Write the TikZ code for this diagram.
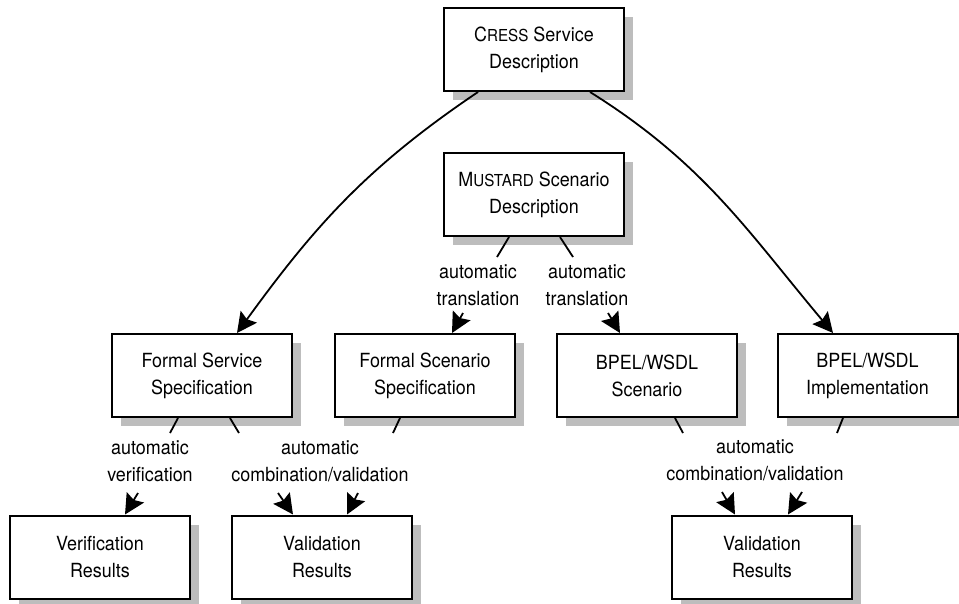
\documentclass[tikz,border=0pt]{standalone}
\usepackage{fontspec}
\setmainfont{TeX Gyre Heros}[FakeStretch=0.92]
\usepackage{tikz}
\usetikzlibrary{arrows.meta,shadows}
\definecolor{border}{HTML}{000000}
\definecolor{shade}{HTML}{BDBDBD}
\newcommand{\boxfont}{\fontsize{19.5}{27}\selectfont}
\newcommand{\smc}[1]{{\fontsize{16.5}{27}\selectfont #1}}
\tikzset{
  box/.style={draw=border, line width=2pt, fill=white, minimum width=180pt,
    minimum height=83pt, align=center, inner sep=0pt, font=\boxfont,
    drop shadow={shadow xshift=9pt, shadow yshift=-9pt, fill=shade, opacity=1}},
  lbl/.style={align=center, inner sep=0pt, font=\boxfont},
  conn/.style={line width=1.8pt, draw=border},
  arr/.style={conn, -{Stealth[length=20pt,width=20pt,inset=3pt]}}
}

\begin{document}
\begin{tikzpicture}[x=1pt,y=1pt]
  \useasboundingbox (0,0) rectangle (959,-603);
  % boxes
  \node[box] (cress)   at (534,-49.5)   {C\smc{RESS} Service\\Description};
  \node[box] (mustard) at (534,-194.5)  {M\smc{USTARD} Scenario\\Description};
  \node[box] (fss)     at (202,-375.5)  {Formal Service\\Specification};
  \node[box] (fscs)    at (425,-375.5)  {Formal Scenario\\Specification};
  \node[box] (bs)      at (647,-375.5)  {BPEL/WSDL\\Scenario};
  \node[box] (impl)    at (867.5,-375.5) {BPEL/WSDL\\Implementation};
  \node[box] (verr)    at (100,-557)    {Verification\\Results};
  \node[box] (valA)    at (322,-557)    {Validation\\Results};
  \node[box] (valB)    at (762,-557)    {Validation\\Results};
  % labels
  \node[lbl] (trA)   at (478,-285) {automatic\\translation};
  \node[lbl] (trB)   at (587,-285) {automatic\\translation};
  \node[lbl] (ver)   at (150,-461) {automatic\\verification};
  \node[lbl] (combA) at (320,-461) {automatic\\combination/validation};
  \node[lbl] (combB) at (755,-460) {automatic\\combination/validation};
  % free ends next to the labels
  \coordinate (mA) at (497,-257);
  \coordinate (mB) at (573,-257);
  \coordinate (tA) at (463,-313);
  \coordinate (tB) at (608,-313);
  \coordinate (sA) at (170,-433);
  \coordinate (sB) at (239,-433);
  \coordinate (sC) at (393,-433);
  \coordinate (vA) at (138,-493);
  \coordinate (cA) at (278,-493);
  \coordinate (cB) at (358,-493);
  \coordinate (bA) at (683,-433);
  \coordinate (bB) at (837,-433);
  \coordinate (cC) at (722,-492);
  \coordinate (cD) at (802,-492);
  % top level
  \draw[arr] ([xshift=-56pt]cress.south) to[out=214,in=54] ([xshift=35pt]fss.north);
  \draw[arr] ([xshift=56pt]cress.south) to[out=-32,in=130] ([xshift=-34.5pt]impl.north);
  % translation
  \draw[conn] ([xshift=-25pt]mustard.south) -- (mA);
  \draw[conn] ([xshift=26pt]mustard.south) -- (mB);
  \draw[arr] (tA) -- ([xshift=27pt]fscs.north);
  \draw[arr] (tB) -- ([xshift=-27pt]bs.north);
  % verification and validation
  \draw[conn] ([xshift=-24pt]fss.south) -- (sA);
  \draw[conn] ([xshift=28pt]fss.south) -- (sB);
  \draw[conn] ([xshift=-25pt]fscs.south) -- (sC);
  \draw[arr] (vA) -- ([xshift=25pt]verr.north);
  \draw[arr] (cA) -- ([xshift=-29pt]valA.north);
  \draw[arr] (cB) -- ([xshift=25pt]valA.north);
  \draw[conn] ([xshift=28pt]bs.south) -- (bA);
  \draw[conn] ([xshift=-24.5pt]impl.south) -- (bB);
  \draw[arr] (cC) -- ([xshift=-27pt]valB.north);
  \draw[arr] (cD) -- ([xshift=26pt]valB.north);
\end{tikzpicture}
\end{document}
